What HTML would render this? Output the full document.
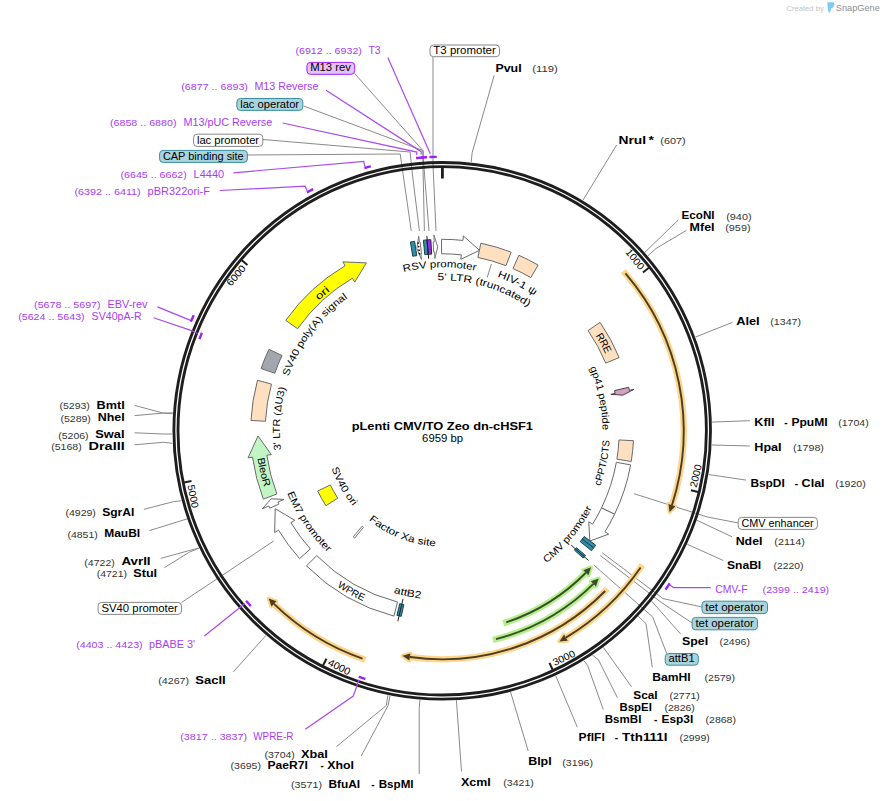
<!DOCTYPE html>
<html><head><meta charset="utf-8"><style>
html,body{margin:0;padding:0;background:#fff;}
svg{display:block;}
text{font-family:"Liberation Sans", sans-serif;}
</style></head><body>
<svg width="884" height="801" viewBox="0 0 884 801">
<rect width="884" height="801" fill="#fff"/>
<path d="M433,57 L433,165 L436,231" fill="none" stroke="#8a8a8a" stroke-width="1"/>
<path d="M354.7,73.6 L423.2,150.9 L423.4,160 L429,231" fill="none" stroke="#8a8a8a" stroke-width="1"/>
<path d="M303.6,106 L422.8,150.5 L422.8,158 L424.4,231" fill="none" stroke="#8a8a8a" stroke-width="1"/>
<path d="M262.8,139.5 L410.1,152 L412.5,175 L419.4,231" fill="none" stroke="#8a8a8a" stroke-width="1"/>
<path d="M247.4,155 L400.2,154 L411.25,231" fill="none" stroke="#8a8a8a" stroke-width="1"/>
<path d="M738.2,523 L707.1,516.9 L634,493.7" fill="none" stroke="#8a8a8a" stroke-width="1"/>
<path d="M702,607 L663,598.6 L602.2,552.7" fill="none" stroke="#8a8a8a" stroke-width="1"/>
<path d="M692.1,623 L661.1,602.3 L600.3,555.5" fill="none" stroke="#8a8a8a" stroke-width="1"/>
<path d="M666.7,653.5 L652.7,617 L593.7,564.9" fill="none" stroke="#8a8a8a" stroke-width="1"/>
<path d="M181.5,602.5 L273.7,541" fill="none" stroke="#8a8a8a" stroke-width="1"/>
<circle cx="442.2" cy="430.8" r="268.3" fill="none" stroke="#1e1e1e" stroke-width="2.85"/>
<circle cx="442.2" cy="430.8" r="264.2" fill="none" stroke="#1e1e1e" stroke-width="2.85"/>
<path d="M442.43,167.6 L442.42,178.6" fill="none" stroke="#1e1e1e" stroke-width="2.8"/>
<path d="M648.84,267.79 L642.95,272.43" fill="none" stroke="#1e1e1e" stroke-width="2.0"/>
<path d="M698.17,492.08 L690.87,490.33" fill="none" stroke="#1e1e1e" stroke-width="2.0"/>
<path d="M552.62,669.72 L549.48,662.91" fill="none" stroke="#1e1e1e" stroke-width="2.0"/>
<path d="M323.01,665.47 L326.41,658.78" fill="none" stroke="#1e1e1e" stroke-width="2.0"/>
<path d="M184.14,482.56 L191.49,481.09" fill="none" stroke="#1e1e1e" stroke-width="2.0"/>
<path d="M241.73,260.25 L247.44,265.11" fill="none" stroke="#1e1e1e" stroke-width="2.0"/>
<text transform="translate(641.78,273.36) rotate(51.73)" x="-3.5" y="0" font-size="10" text-anchor="end" textLength="23.5" lengthAdjust="spacingAndGlyphs">1000</text>
<text transform="translate(695.64,491.47) rotate(-76.54)" x="3.5" y="0" font-size="10" textLength="23.5" lengthAdjust="spacingAndGlyphs">2000</text>
<text transform="translate(551.53,667.36) rotate(-24.81)" x="3.5" y="0" font-size="10" textLength="23.5" lengthAdjust="spacingAndGlyphs">3000</text>
<text transform="translate(324.19,663.15) rotate(26.93)" x="3.5" y="0" font-size="10" textLength="23.5" lengthAdjust="spacingAndGlyphs">4000</text>
<text transform="translate(186.69,482.05) rotate(78.66)" x="3.5" y="0" font-size="10" textLength="23.5" lengthAdjust="spacingAndGlyphs">5000</text>
<text transform="translate(248.59,266.08) rotate(310.39)" x="-3.5" y="0" font-size="10" text-anchor="end" textLength="23.5" lengthAdjust="spacingAndGlyphs">6000</text>
<text x="495.4" y="71.8" font-size="10" font-weight="bold" textLength="26.2" lengthAdjust="spacingAndGlyphs">PvuI</text>
<text x="532.3" y="72.1" font-size="8.6" fill="#333" textLength="25.5" lengthAdjust="spacingAndGlyphs">(119)</text>
<path d="M494.2,75.3 L472.2,152.5 L471.15,162.36" fill="none" stroke="#8a8a8a" stroke-width="1"/>
<text x="618.5" y="143.6" font-size="10" font-weight="bold" textLength="27.6" lengthAdjust="spacingAndGlyphs">NruI</text>
<text x="648.5" y="143.6" font-size="10" font-weight="bold" textLength="5.4" lengthAdjust="spacingAndGlyphs">*</text>
<text x="660.3" y="143.9" font-size="8.6" fill="#333" textLength="25.3" lengthAdjust="spacingAndGlyphs">(607)</text>
<path d="M616.7,144.9 L582.88,200.34" fill="none" stroke="#8a8a8a" stroke-width="1"/>
<text x="681.6" y="219.2" font-size="10" font-weight="bold" textLength="33" lengthAdjust="spacingAndGlyphs">EcoNI</text>
<text x="726.2" y="219.5" font-size="8.6" fill="#333" textLength="25.4" lengthAdjust="spacingAndGlyphs">(940)</text>
<path d="M678.4,219.9 L644.82,252.34" fill="none" stroke="#8a8a8a" stroke-width="1"/>
<text x="689.6" y="231.1" font-size="10" font-weight="bold" textLength="25" lengthAdjust="spacingAndGlyphs">MfeI</text>
<text x="725.2" y="231.4" font-size="8.6" fill="#333" textLength="25.4" lengthAdjust="spacingAndGlyphs">(959)</text>
<path d="M686.4,230.4 L656,248.5 L647.85,255.85" fill="none" stroke="#8a8a8a" stroke-width="1"/>
<text x="736.2" y="324.8" font-size="10" font-weight="bold" textLength="23.5" lengthAdjust="spacingAndGlyphs">AleI</text>
<text x="770.3" y="325.1" font-size="8.6" fill="#333" textLength="30.7" lengthAdjust="spacingAndGlyphs">(1347)</text>
<path d="M732.4,322.4 L695.4,337.05" fill="none" stroke="#8a8a8a" stroke-width="1"/>
<text x="754.3" y="426.1" font-size="10" font-weight="bold" textLength="20.3" lengthAdjust="spacingAndGlyphs">KflI</text>
<text x="784.2" y="426.1" font-size="10" font-weight="bold">-</text>
<text x="791.4" y="426.1" font-size="10" font-weight="bold" textLength="36.2" lengthAdjust="spacingAndGlyphs">PpuMI</text>
<text x="838.2" y="426.4" font-size="8.6" fill="#333" textLength="30.5" lengthAdjust="spacingAndGlyphs">(1704)</text>
<path d="M749.9,420.7 L712.06,422.09" fill="none" stroke="#8a8a8a" stroke-width="1"/>
<text x="754.3" y="451" font-size="10" font-weight="bold" textLength="27.3" lengthAdjust="spacingAndGlyphs">HpaI</text>
<text x="793" y="451.3" font-size="8.6" fill="#333" textLength="30.9" lengthAdjust="spacingAndGlyphs">(1798)</text>
<path d="M749.9,446 L711.83,444.99" fill="none" stroke="#8a8a8a" stroke-width="1"/>
<text x="750.4" y="486.6" font-size="10" font-weight="bold" textLength="34.4" lengthAdjust="spacingAndGlyphs">BspDI</text>
<text x="794.7" y="486.6" font-size="10" font-weight="bold">-</text>
<text x="801.6" y="486.6" font-size="10" font-weight="bold" textLength="23" lengthAdjust="spacingAndGlyphs">ClaI</text>
<text x="835.2" y="486.9" font-size="8.6" fill="#333" textLength="30.5" lengthAdjust="spacingAndGlyphs">(1920)</text>
<path d="M746.1,480.1 L708.63,474.55" fill="none" stroke="#8a8a8a" stroke-width="1"/>
<text x="735.7" y="544.8" font-size="10" font-weight="bold" textLength="26.8" lengthAdjust="spacingAndGlyphs">NdeI</text>
<text x="774.3" y="545.1" font-size="8.6" fill="#333" textLength="30.5" lengthAdjust="spacingAndGlyphs">(2114)</text>
<path d="M732,536.8 L696.93,520.31" fill="none" stroke="#8a8a8a" stroke-width="1"/>
<text x="727" y="568.9" font-size="10" font-weight="bold" textLength="34.2" lengthAdjust="spacingAndGlyphs">SnaBI</text>
<text x="773.6" y="569.2" font-size="8.6" fill="#333" textLength="29.9" lengthAdjust="spacingAndGlyphs">(2220)</text>
<path d="M723.3,560.5 L687.21,544.24" fill="none" stroke="#8a8a8a" stroke-width="1"/>
<text x="682.1" y="644.8" font-size="10" font-weight="bold" textLength="26" lengthAdjust="spacingAndGlyphs">SpeI</text>
<text x="719.5" y="645.1" font-size="8.6" fill="#333" textLength="30.4" lengthAdjust="spacingAndGlyphs">(2496)</text>
<path d="M680.9,634.3 L651.67,601.16" fill="none" stroke="#8a8a8a" stroke-width="1"/>
<text x="652.3" y="680.8" font-size="10" font-weight="bold" textLength="38.4" lengthAdjust="spacingAndGlyphs">BamHI</text>
<text x="704.5" y="681.1" font-size="8.6" fill="#333" textLength="30.5" lengthAdjust="spacingAndGlyphs">(2579)</text>
<path d="M652.3,667.2 L646,623.6 L638.32,616.37" fill="none" stroke="#8a8a8a" stroke-width="1"/>
<text x="633.3" y="698.6" font-size="10" font-weight="bold" textLength="24.3" lengthAdjust="spacingAndGlyphs">ScaI</text>
<text x="669.4" y="698.9" font-size="8.6" fill="#333" textLength="30.5" lengthAdjust="spacingAndGlyphs">(2771)</text>
<path d="M631.6,686.9 L603.38,647.42" fill="none" stroke="#8a8a8a" stroke-width="1"/>
<text x="619.6" y="710.5" font-size="10" font-weight="bold" textLength="32.2" lengthAdjust="spacingAndGlyphs">BspEI</text>
<text x="664.4" y="710.8" font-size="8.6" fill="#333" textLength="30.5" lengthAdjust="spacingAndGlyphs">(2826)</text>
<path d="M617.4,697.7 L598.4,659.7 L592.43,655.15" fill="none" stroke="#8a8a8a" stroke-width="1"/>
<text x="604.7" y="722.7" font-size="10" font-weight="bold" textLength="36.7" lengthAdjust="spacingAndGlyphs">BsmBI</text>
<text x="654" y="722.7" font-size="10" font-weight="bold">-</text>
<text x="661.5" y="722.7" font-size="10" font-weight="bold" textLength="31.7" lengthAdjust="spacingAndGlyphs">Esp3I</text>
<text x="705.5" y="723" font-size="8.6" fill="#333" textLength="30.5" lengthAdjust="spacingAndGlyphs">(2868)</text>
<path d="M603.3,709.6 L587.5,665.2 L583.81,660.68" fill="none" stroke="#8a8a8a" stroke-width="1"/>
<text x="578.6" y="740.9" font-size="10" font-weight="bold" textLength="26.2" lengthAdjust="spacingAndGlyphs">PflFI</text>
<text x="614.7" y="740.9" font-size="10" font-weight="bold">-</text>
<text x="622.1" y="740.9" font-size="10" font-weight="bold" textLength="45.4" lengthAdjust="spacingAndGlyphs">Tth111I</text>
<text x="679.4" y="741.2" font-size="8.6" fill="#333" textLength="30.4" lengthAdjust="spacingAndGlyphs">(2999)</text>
<path d="M577.3,727.2 L555.7,675.79" fill="none" stroke="#8a8a8a" stroke-width="1"/>
<text x="528.2" y="765.2" font-size="10" font-weight="bold" textLength="23.5" lengthAdjust="spacingAndGlyphs">BlpI</text>
<text x="562.3" y="765.5" font-size="8.6" fill="#333" textLength="30.7" lengthAdjust="spacingAndGlyphs">(3196)</text>
<path d="M528.2,751 L510.56,692" fill="none" stroke="#8a8a8a" stroke-width="1"/>
<text x="461" y="785.9" font-size="10" font-weight="bold" textLength="29.7" lengthAdjust="spacingAndGlyphs">XcmI</text>
<text x="503.3" y="786.2" font-size="8.6" fill="#333" textLength="30.5" lengthAdjust="spacingAndGlyphs">(3421)</text>
<path d="M461.5,771.6 L456.45,700.42" fill="none" stroke="#8a8a8a" stroke-width="1"/>
<text x="291" y="787.9" font-size="8.6" fill="#333" textLength="31" lengthAdjust="spacingAndGlyphs">(3571)</text>
<text x="328.4" y="787.6" font-size="10" font-weight="bold" textLength="31.7" lengthAdjust="spacingAndGlyphs">BfuAI</text>
<text x="371.2" y="787.6" font-size="10" font-weight="bold">-</text>
<text x="378.7" y="787.6" font-size="10" font-weight="bold" textLength="34.9" lengthAdjust="spacingAndGlyphs">BspMI</text>
<path d="M419.2,774.1 L419.2,708.7 L419.92,699.88" fill="none" stroke="#8a8a8a" stroke-width="1"/>
<text x="230.6" y="769.4" font-size="8.6" fill="#333" textLength="30.3" lengthAdjust="spacingAndGlyphs">(3695)</text>
<text x="267.4" y="769.1" font-size="10" font-weight="bold" textLength="40.4" lengthAdjust="spacingAndGlyphs">PaeR7I</text>
<text x="320.4" y="769.1" font-size="10" font-weight="bold">-</text>
<text x="327.2" y="769.1" font-size="10" font-weight="bold" textLength="26.7" lengthAdjust="spacingAndGlyphs">XhoI</text>
<path d="M361.2,756 L388.1,705.4 L390,695.71" fill="none" stroke="#8a8a8a" stroke-width="1"/>
<text x="264.4" y="758" font-size="8.6" fill="#333" textLength="30.5" lengthAdjust="spacingAndGlyphs">(3704)</text>
<text x="301" y="757.7" font-size="10" font-weight="bold" textLength="26.8" lengthAdjust="spacingAndGlyphs">XbaI</text>
<path d="M336.4,746.7 L386.4,705.4 L387.85,695.27" fill="none" stroke="#8a8a8a" stroke-width="1"/>
<text x="158.2" y="683.9" font-size="8.6" fill="#333" textLength="30.9" lengthAdjust="spacingAndGlyphs">(4267)</text>
<text x="195.3" y="683.6" font-size="10" font-weight="bold" textLength="30.4" lengthAdjust="spacingAndGlyphs">SacII</text>
<path d="M233.3,671.9 L266,635.38" fill="none" stroke="#8a8a8a" stroke-width="1"/>
<text x="84.3" y="565.5" font-size="8.6" fill="#333" textLength="30.5" lengthAdjust="spacingAndGlyphs">(4722)</text>
<text x="121.4" y="565.2" font-size="10" font-weight="bold" textLength="29.2" lengthAdjust="spacingAndGlyphs">AvrII</text>
<path d="M160.7,558.4 L189.3,550.5 L198.96,547.99" fill="none" stroke="#8a8a8a" stroke-width="1"/>
<text x="96.7" y="577.4" font-size="8.6" fill="#333" textLength="30.3" lengthAdjust="spacingAndGlyphs">(4721)</text>
<text x="133.3" y="577.1" font-size="10" font-weight="bold" textLength="23.8" lengthAdjust="spacingAndGlyphs">StuI</text>
<path d="M164.4,567.7 L189.3,552.2 L199.06,548.21" fill="none" stroke="#8a8a8a" stroke-width="1"/>
<text x="67.4" y="537.6" font-size="8.6" fill="#333" textLength="30.4" lengthAdjust="spacingAndGlyphs">(4851)</text>
<text x="104.2" y="537.3" font-size="10" font-weight="bold" textLength="36" lengthAdjust="spacingAndGlyphs">MauBI</text>
<path d="M149.5,530.6 L186.99,518.93" fill="none" stroke="#8a8a8a" stroke-width="1"/>
<text x="65.4" y="516.4" font-size="8.6" fill="#333" textLength="30.5" lengthAdjust="spacingAndGlyphs">(4929)</text>
<text x="102.2" y="516.1" font-size="10" font-weight="bold" textLength="32.2" lengthAdjust="spacingAndGlyphs">SgrAI</text>
<path d="M143.8,509.4 L173.2,501.7 L181.42,500.75" fill="none" stroke="#8a8a8a" stroke-width="1"/>
<text x="51.2" y="450.4" font-size="8.6" fill="#333" textLength="30.5" lengthAdjust="spacingAndGlyphs">(5168)</text>
<text x="88.5" y="450.1" font-size="10" font-weight="bold" textLength="36.2" lengthAdjust="spacingAndGlyphs">DraIII</text>
<path d="M134.6,444.8 L163.2,442.3 L172.49,443.29" fill="none" stroke="#8a8a8a" stroke-width="1"/>
<text x="58.2" y="438.6" font-size="8.6" fill="#333" textLength="30.4" lengthAdjust="spacingAndGlyphs">(5206)</text>
<text x="95.3" y="438.3" font-size="10" font-weight="bold" textLength="29.2" lengthAdjust="spacingAndGlyphs">SwaI</text>
<path d="M134.6,432.8 L163.2,434 L172.22,434.03" fill="none" stroke="#8a8a8a" stroke-width="1"/>
<text x="60.4" y="421.5" font-size="8.6" fill="#333" textLength="30.5" lengthAdjust="spacingAndGlyphs">(5289)</text>
<text x="97.7" y="421.2" font-size="10" font-weight="bold" textLength="27" lengthAdjust="spacingAndGlyphs">NheI</text>
<path d="M134.6,415.6 L163.2,413.1 L172.74,413.81" fill="none" stroke="#8a8a8a" stroke-width="1"/>
<text x="59.4" y="409" font-size="8.6" fill="#333" textLength="30.5" lengthAdjust="spacingAndGlyphs">(5293)</text>
<text x="96.5" y="408.7" font-size="10" font-weight="bold" textLength="28.2" lengthAdjust="spacingAndGlyphs">BmtI</text>
<path d="M134.6,405.4 L163.2,413.1 L172.8,412.83" fill="none" stroke="#8a8a8a" stroke-width="1"/>
<text x="295.4" y="54" font-size="9" fill="#a63cf0" textLength="66.5" lengthAdjust="spacingAndGlyphs">(6912 .. 6932)</text>
<text x="368.4" y="54" font-size="10.2" fill="#a63cf0" textLength="12.2" lengthAdjust="spacingAndGlyphs">T3</text>
<path d="M387.8,57.4 L430.3,153.7" fill="none" stroke="#a94af0" stroke-width="1.2"/>
<path d="M430.58,157.05 A274,274 0 0 1 435.52,156.88" fill="none" stroke="#a020f0" stroke-width="2.4" stroke-linecap="square"/>
<text x="181.3" y="89.9" font-size="9" fill="#a63cf0" textLength="66.6" lengthAdjust="spacingAndGlyphs">(6877 .. 6893)</text>
<text x="254.4" y="89.9" font-size="10.2" fill="#a63cf0" textLength="64" lengthAdjust="spacingAndGlyphs">M13 Reverse</text>
<path d="M326,90.3 L421.2,151.7 L421.2,154.6" fill="none" stroke="#a94af0" stroke-width="1.2"/>
<path d="M421.93,157.55 A274,274 0 0 1 425.88,157.29" fill="none" stroke="#a020f0" stroke-width="2.4" stroke-linecap="square"/>
<text x="110" y="125.8" font-size="9" fill="#a63cf0" textLength="66.5" lengthAdjust="spacingAndGlyphs">(6858 .. 6880)</text>
<text x="183.4" y="125.8" font-size="10.2" fill="#a63cf0" textLength="88.9" lengthAdjust="spacingAndGlyphs">M13/pUC Reverse</text>
<path d="M282.6,123 L416.8,152.1 L416.8,155" fill="none" stroke="#a94af0" stroke-width="1.2"/>
<path d="M417.25,157.94 A274,274 0 0 1 422.67,157.5" fill="none" stroke="#a020f0" stroke-width="2.4" stroke-linecap="square"/>
<text x="120.5" y="178" font-size="9" fill="#a63cf0" textLength="66.3" lengthAdjust="spacingAndGlyphs">(6645 .. 6662)</text>
<text x="193.6" y="178" font-size="10.2" fill="#a63cf0" textLength="30.5" lengthAdjust="spacingAndGlyphs">L4440</text>
<path d="M233.5,172.8 L363.8,161.4 L364.8,166.5" fill="none" stroke="#a94af0" stroke-width="1.2"/>
<path d="M365.56,167.74 A274,274 0 0 1 369.6,166.59" fill="none" stroke="#a020f0" stroke-width="2.4" stroke-linecap="square"/>
<text x="74.4" y="195.2" font-size="9" fill="#a63cf0" textLength="66.3" lengthAdjust="spacingAndGlyphs">(6392 .. 6411)</text>
<text x="147.6" y="195.2" font-size="10.2" fill="#a63cf0" textLength="62.3" lengthAdjust="spacingAndGlyphs">pBR322ori-F</text>
<path d="M219.8,190.5 L305.1,186.2 L307.3,191.2" fill="none" stroke="#a94af0" stroke-width="1.2"/>
<path d="M307.98,191.93 A274,274 0 0 1 312.09,189.66" fill="none" stroke="#a020f0" stroke-width="2.4" stroke-linecap="square"/>
<text x="34.1" y="307.9" font-size="9" fill="#a63cf0" textLength="66.5" lengthAdjust="spacingAndGlyphs">(5678 .. 5697)</text>
<text x="107.5" y="307.9" font-size="10.2" fill="#a63cf0" textLength="39.9" lengthAdjust="spacingAndGlyphs">EBV-rev</text>
<path d="M157.5,306.9 L191.2,320.6" fill="none" stroke="#a94af0" stroke-width="1.2"/>
<path d="M191.37,320.53 A274,274 0 0 1 193.3,316.24" fill="none" stroke="#a020f0" stroke-width="2.4" stroke-linecap="square"/>
<text x="18.2" y="319.8" font-size="9" fill="#a63cf0" textLength="66.5" lengthAdjust="spacingAndGlyphs">(5624 .. 5643)</text>
<text x="91.6" y="319.8" font-size="10.2" fill="#a63cf0" textLength="50.1" lengthAdjust="spacingAndGlyphs">SV40pA-R</text>
<path d="M153.6,317.8 L191.6,330.6 L197.5,333.5" fill="none" stroke="#a94af0" stroke-width="1.2"/>
<path d="M199.84,338.06 A259.5,259.5 0 0 1 201.46,333.92" fill="none" stroke="#a020f0" stroke-width="2.4" stroke-linecap="square"/>
<text x="76.2" y="647.7" font-size="9" fill="#a63cf0" textLength="66.5" lengthAdjust="spacingAndGlyphs">(4403 .. 4423)</text>
<text x="149.1" y="647.7" font-size="10.2" fill="#a63cf0" textLength="45.9" lengthAdjust="spacingAndGlyphs">pBABE 3'</text>
<path d="M204.4,636 L242.4,605.5 L244.5,603.5" fill="none" stroke="#a94af0" stroke-width="1.2"/>
<path d="M250.04,605.2 A259.5,259.5 0 0 1 246.92,601.7" fill="none" stroke="#a020f0" stroke-width="2.4" stroke-linecap="square"/>
<text x="180.3" y="739.8" font-size="9" fill="#a63cf0" textLength="66.8" lengthAdjust="spacingAndGlyphs">(3817 .. 3837)</text>
<text x="253.2" y="739.8" font-size="10.2" fill="#a63cf0" textLength="40.2" lengthAdjust="spacingAndGlyphs">WPRE-R</text>
<path d="M305.3,729.3 L353.25,696 L356.5,687 L358.9,679.8" fill="none" stroke="#a94af0" stroke-width="1.2"/>
<path d="M364.25,678.63 A259.8,259.8 0 0 1 359.79,677.18" fill="none" stroke="#a020f0" stroke-width="2.4" stroke-linecap="square"/>
<text x="762.6" y="592.6" font-size="9" fill="#a63cf0" textLength="66.6" lengthAdjust="spacingAndGlyphs">(2399 .. 2419)</text>
<text x="715.3" y="592.6" font-size="10.2" fill="#a63cf0" textLength="32.3" lengthAdjust="spacingAndGlyphs">CMV-F</text>
<path d="M710.8,587.6 L673.5,587.6 L669.8,585" fill="none" stroke="#a94af0" stroke-width="1.2"/>
<path d="M669.08,584.43 A274,274 0 0 1 666.27,588.5" fill="none" stroke="#a020f0" stroke-width="2.4" stroke-linecap="square"/>
<path d="M410.36,241.97 A191.5,191.5 0 0 1 414.63,241.29 L416.72,255.64 A177,177 0 0 0 412.77,256.26 Z" fill="#2f8ea8" stroke="#1f3f48" stroke-width="1" stroke-linejoin="miter"/>
<path d="M420.12,242.09 A190,190 0 0 0 419.44,242.17 L418.72,236.21 L416.86,248.55 L421.54,259.54 L420.88,254.08 A178,178 0 0 1 421.51,254.01 Z" fill="#fff" stroke="#777" stroke-width="1" stroke-linejoin="miter"/>
<circle cx="419.54" cy="253.74" r="0.9" fill="#111"/>
<circle cx="419.08" cy="250.17" r="0.9" fill="#111"/>
<circle cx="418.62" cy="246.6" r="0.9" fill="#111"/>
<circle cx="418.17" cy="243.03" r="0.9" fill="#111"/>
<path d="M423.38,240.23 A191.5,191.5 0 0 1 427,239.9 L428.15,254.36 A177,177 0 0 0 424.81,254.66 Z" fill="#2f8ea8" stroke="#1f3f48" stroke-width="1" stroke-linejoin="miter"/>
<path d="M427,239.9 A191.5,191.5 0 0 1 430.8,239.64 L431.66,254.11 A177,177 0 0 0 428.15,254.36 Z" fill="#9a2ee6" stroke="#3a1a50" stroke-width="1" stroke-linejoin="miter"/>
<path d="M428.66,258.83 L426.86,235.9" fill="none" stroke="#222" stroke-width="1"/>
<path d="M433.16,242.02 A189,189 0 0 1 434.18,241.97 L433.89,234.98 L437.71,246.85 L434.88,258.46 L434.61,251.96 A179,179 0 0 0 433.64,252 Z" fill="#fff" stroke="#777" stroke-width="1" stroke-linejoin="miter"/>
<path d="M441.53,239.3 A191.5,191.5 0 0 1 462.91,240.42 L463.39,235.95 L479.54,250.37 L460.85,259.31 L461.34,254.84 A177,177 0 0 0 441.58,253.8 Z" fill="#fff" stroke="#6a6a6a" stroke-width="1" stroke-linejoin="miter"/>
<path d="M480.84,243.24 A191.5,191.5 0 0 1 511.16,252.15 L505.94,265.67 A177,177 0 0 0 477.91,257.44 Z" fill="#fee0c1" stroke="#6a6a6a" stroke-width="1" stroke-linejoin="miter"/>
<path d="M518.83,255.3 A191.5,191.5 0 0 1 538.11,265.05 L530.85,277.6 A177,177 0 0 0 513.03,268.59 Z" fill="#fee0c1" stroke="#6a6a6a" stroke-width="1" stroke-linejoin="miter"/>
<path d="M600.04,322.36 A191.5,191.5 0 0 1 619.14,357.55 L605.74,363.09 A177,177 0 0 0 588.08,330.57 Z" fill="#fee0c1" stroke="#6a6a6a" stroke-width="1" stroke-linejoin="miter"/>
<path d="M628.7,387.31 A191.5,191.5 0 0 1 629.38,390.35 L633.78,389.39 L622.97,395.14 L610.81,394.36 L615.21,393.41 A177,177 0 0 0 614.57,390.6 Z" fill="#d59fc2" stroke="#444" stroke-width="1" stroke-linejoin="miter"/>
<path d="M633.44,440.69 A191.5,191.5 0 0 1 631.23,461.49 L616.91,459.16 A177,177 0 0 0 618.96,439.95 Z" fill="#fee0c1" stroke="#6a6a6a" stroke-width="1" stroke-linejoin="miter"/>
<path d="M630.64,464.9 A191.5,191.5 0 0 1 614.57,514.23 L601.52,507.91 A177,177 0 0 0 616.37,462.31 Z" fill="#fff" stroke="#6a6a6a" stroke-width="1" stroke-linejoin="miter"/>
<path d="M614.57,514.23 A191.5,191.5 0 0 1 604.91,531.79 L608.73,534.16 L589.85,541.02 L588.76,521.77 L592.59,524.14 A177,177 0 0 0 601.52,507.91 Z" fill="#fff" stroke="#6a6a6a" stroke-width="1" stroke-linejoin="miter"/>
<path d="M595.76,545.22 A191.5,191.5 0 0 1 593.67,547.97 L582.2,539.1 A177,177 0 0 0 584.13,536.56 Z" fill="#2f8ea8" stroke="#1f3f48" stroke-width="1" stroke-linejoin="miter"/>
<path d="M593.67,547.97 A191.5,191.5 0 0 1 591.53,550.69 L580.22,541.61 A177,177 0 0 0 582.2,539.1 Z" fill="#2f8ea8" stroke="#1f3f48" stroke-width="1" stroke-linejoin="miter"/>
<path d="M585.52,555.54 A190,190 0 0 1 583.24,558.11 L574.33,550.07 A178,178 0 0 0 576.46,547.66 Z" fill="#2f8ea8" stroke="#1f3f48" stroke-width="1" stroke-linejoin="miter"/>
<path d="M571.29,545.22 L588.5,560.48" fill="none" stroke="#222" stroke-width="1"/>
<path d="M401.27,616.34 A190,190 0 0 1 396.92,615.33 L399.78,603.67 A178,178 0 0 0 403.85,604.62 Z" fill="#2f8ea8" stroke="#1f3f48" stroke-width="1" stroke-linejoin="miter"/>
<path d="M403.06,598.8 L397.84,621.2" fill="none" stroke="#222" stroke-width="1"/>
<path d="M393.88,616.1 A191.5,191.5 0 0 1 306.47,565.89 L316.75,555.66 A177,177 0 0 0 397.54,602.07 Z" fill="#fff" stroke="#6a6a6a" stroke-width="1" stroke-linejoin="miter"/>
<path d="M299.58,558.6 A191.5,191.5 0 0 1 278.5,530.17 L274.65,532.51 L275.21,508.67 L294.74,520.31 L290.89,522.65 A177,177 0 0 0 310.38,548.92 Z" fill="#fff" stroke="#6a6a6a" stroke-width="1" stroke-linejoin="miter"/>
<path d="M269.77,508.19 A189,189 0 0 1 268.81,506 L262.38,508.79 L271.23,498.8 L283.94,499.44 L277.98,502.03 A179,179 0 0 0 278.89,504.1 Z" fill="#fff" stroke="#6a6a6a" stroke-width="1" stroke-linejoin="miter"/>
<path d="M263.31,499.15 A191.5,191.5 0 0 1 252.53,457.21 L248.07,457.83 L258.02,436 L271.35,454.59 L266.89,455.21 A177,177 0 0 0 276.86,493.98 Z" fill="#c2f5c4" stroke="#6a6a6a" stroke-width="1" stroke-linejoin="miter"/>
<path d="M250.98,420.47 A191.5,191.5 0 0 1 257.49,380.27 L271.47,384.1 A177,177 0 0 0 265.46,421.26 Z" fill="#fee0c1" stroke="#6a6a6a" stroke-width="1" stroke-linejoin="miter"/>
<path d="M261.1,368.54 A191.5,191.5 0 0 1 268.9,349.32 L282.02,355.49 A177,177 0 0 0 274.82,373.25 Z" fill="#a3a6ad" stroke="#6a6a6a" stroke-width="1" stroke-linejoin="miter"/>
<path d="M285.75,320.37 A191.5,191.5 0 0 1 345.09,265.75 L342.81,261.87 L366.34,262.89 L354.73,282.12 L352.45,278.24 A177,177 0 0 0 297.59,328.73 Z" fill="#ffff00" stroke="#6a6a6a" stroke-width="1" stroke-linejoin="miter"/>
<path d="M325.96,505.74 A138.3,138.3 0 0 1 317.71,491.05 L330.32,484.95 A124.3,124.3 0 0 0 337.73,498.15 Z" fill="#ffff00" stroke="#6a6a6a" stroke-width="1" stroke-linejoin="miter"/>
<path d="M354.66,538.13 A138.5,138.5 0 0 1 353.17,536.9 L362.17,526.17 A124.5,124.5 0 0 0 363.51,527.28 Z" fill="#fff" stroke="#555" stroke-width="0.8" stroke-linejoin="miter"/>
<path d="M625.43,273.48 A241.5,241.5 0 0 1 671.95,505.2" fill="none" stroke="#fdd68c" stroke-width="6.4" stroke-linecap="square"/>
<path d="M669.53,512.3 L675.38,506.31 L668.53,504.09 Z" fill="#fdd68c" stroke="#fdd68c" stroke-width="4" stroke-linejoin="round"/>
<path d="M625.43,273.48 A241.5,241.5 0 0 1 671.95,505.2" fill="none" stroke="#4a3d26" stroke-width="1.9"/>
<path d="M669.53,512.3 L675.38,506.31 L668.53,504.09 Z" fill="#4a3d26" stroke="none"/>
<path d="M640.65,567.55 A241,241 0 0 1 565.9,637.63" fill="none" stroke="#fdd68c" stroke-width="6.4" stroke-linecap="square"/>
<path d="M559.4,641.38 L567.75,640.72 L564.05,634.54 Z" fill="#fdd68c" stroke="#fdd68c" stroke-width="4" stroke-linejoin="round"/>
<path d="M640.65,567.55 A241,241 0 0 1 565.9,637.63" fill="none" stroke="#4a3d26" stroke-width="1.9"/>
<path d="M559.4,641.38 L567.75,640.72 L564.05,634.54 Z" fill="#4a3d26" stroke="none"/>
<path d="M605.17,590.96 A228.5,228.5 0 0 1 409.89,657" fill="none" stroke="#fdd68c" stroke-width="6.4" stroke-linecap="square"/>
<path d="M402.48,655.82 L409.38,660.57 L410.4,653.44 Z" fill="#fdd68c" stroke="#fdd68c" stroke-width="4" stroke-linejoin="round"/>
<path d="M605.17,590.96 A228.5,228.5 0 0 1 409.89,657" fill="none" stroke="#4a3d26" stroke-width="1.9"/>
<path d="M402.48,655.82 L409.38,660.57 L410.4,653.44 Z" fill="#4a3d26" stroke="none"/>
<path d="M362.53,658.68 A241.4,241.4 0 0 1 273.95,603.91" fill="none" stroke="#fdd68c" stroke-width="6.4" stroke-linecap="square"/>
<path d="M268.66,598.6 L271.45,606.49 L276.46,601.33 Z" fill="#fdd68c" stroke="#fdd68c" stroke-width="4" stroke-linejoin="round"/>
<path d="M362.53,658.68 A241.4,241.4 0 0 1 273.95,603.91" fill="none" stroke="#4a3d26" stroke-width="1.9"/>
<path d="M268.66,598.6 L271.45,606.49 L276.46,601.33 Z" fill="#4a3d26" stroke="none"/>
<path d="M585.87,572.79 A202,202 0 0 1 506.28,622.37" fill="none" stroke="#b2f088" stroke-width="6.4" stroke-linecap="square"/>
<path d="M591.04,567.36 L588.43,575.33 L583.31,570.26 Z" fill="#b2f088" stroke="#b2f088" stroke-width="4" stroke-linejoin="round"/>
<path d="M585.87,572.79 A202,202 0 0 1 506.28,622.37" fill="none" stroke="#3c4a30" stroke-width="1.9"/>
<path d="M591.04,567.36 L588.43,575.33 L583.31,570.26 Z" fill="#3c4a30" stroke="none"/>
<path d="M593.41,583.92 A215.2,215.2 0 0 1 495.93,639.18" fill="none" stroke="#b2f088" stroke-width="6.4" stroke-linecap="square"/>
<path d="M598.65,578.56 L595.94,586.49 L590.88,581.36 Z" fill="#b2f088" stroke="#b2f088" stroke-width="4" stroke-linejoin="round"/>
<path d="M593.41,583.92 A215.2,215.2 0 0 1 495.93,639.18" fill="none" stroke="#3c4a30" stroke-width="1.9"/>
<path d="M598.65,578.56 L595.94,586.49 L590.88,581.36 Z" fill="#3c4a30" stroke="none"/>
<path id="lp1" d="M278.72,433.37 A163.5,163.5 0 0 1 605.68,428.23" fill="none" stroke="none"/>
<text font-size="10" fill="#000"><textPath href="#lp1" startOffset="50%" text-anchor="middle" textLength="73" lengthAdjust="spacingAndGlyphs">RSV promoter</textPath></text>
<path id="lp2" d="M297.42,387.91 A151,151 0 0 1 586.98,473.69" fill="none" stroke="none"/>
<text font-size="10" fill="#000"><textPath href="#lp2" startOffset="50%" text-anchor="middle" textLength="96" lengthAdjust="spacingAndGlyphs">5' LTR (truncated)</textPath></text>
<path id="lp3" d="M296.52,356.57 A163.5,163.5 0 0 1 587.88,505.03" fill="none" stroke="none"/>
<text font-size="10" fill="#000"><textPath href="#lp3" startOffset="50%" text-anchor="middle" textLength="42" lengthAdjust="spacingAndGlyphs">HIV-1 ψ</textPath></text>
<path id="lp4" d="M356.12,272.26 A180.4,180.4 0 0 1 528.28,589.34" fill="none" stroke="none"/>
<text font-size="10.5" fill="#000"><textPath href="#lp4" startOffset="50%" text-anchor="middle" textLength="21" lengthAdjust="spacingAndGlyphs">RRE</textPath></text>
<path id="lp5" d="M409.45,272.66 A161.5,161.5 0 0 1 474.95,588.94" fill="none" stroke="none"/>
<text font-size="10" fill="#000"><textPath href="#lp5" startOffset="50%" text-anchor="middle" textLength="64" lengthAdjust="spacingAndGlyphs">gp41 peptide</textPath></text>
<path id="lp6" d="M409.18,596.03 A168.5,168.5 0 0 0 475.22,265.57" fill="none" stroke="none"/>
<text font-size="10" fill="#000"><textPath href="#lp6" startOffset="50%" text-anchor="middle" textLength="47" lengthAdjust="spacingAndGlyphs">cPPT/CTS</textPath></text>
<path id="lp7" d="M334.89,560.97 A168.7,168.7 0 0 0 549.51,300.63" fill="none" stroke="none"/>
<text font-size="10" fill="#000"><textPath href="#lp7" startOffset="50%" text-anchor="middle" textLength="72" lengthAdjust="spacingAndGlyphs">CMV promoter</textPath></text>
<path id="lp8" d="M276.89,395.66 A169,169 0 0 0 607.51,465.94" fill="none" stroke="none"/>
<text font-size="10" fill="#000"><textPath href="#lp8" startOffset="50%" text-anchor="middle" textLength="28" lengthAdjust="spacingAndGlyphs">attB2</textPath></text>
<path id="lp9" d="M278.66,338.27 A187.9,187.9 0 0 0 605.74,523.33" fill="none" stroke="none"/>
<text font-size="10" fill="#000"><textPath href="#lp9" startOffset="50%" text-anchor="middle" textLength="30" lengthAdjust="spacingAndGlyphs">WPRE</textPath></text>
<path id="lp10" d="M334.2,388.47 A116,116 0 0 0 550.2,473.13" fill="none" stroke="none"/>
<text font-size="10" fill="#000"><textPath href="#lp10" startOffset="50%" text-anchor="middle" textLength="73" lengthAdjust="spacingAndGlyphs">Factor Xa site</textPath></text>
<path id="lp11" d="M347.41,292.1 A168,168 0 0 0 536.99,569.5" fill="none" stroke="none"/>
<text font-size="10" fill="#000"><textPath href="#lp11" startOffset="50%" text-anchor="middle" textLength="72" lengthAdjust="spacingAndGlyphs">EM7 promoter</textPath></text>
<path id="lp12" d="M385.26,329.74 A116,116 0 1 0 499.14,531.86" fill="none" stroke="none"/>
<text font-size="10" fill="#000"><textPath href="#lp12" startOffset="50%" text-anchor="middle" textLength="44" lengthAdjust="spacingAndGlyphs">SV40 ori</textPath></text>
<path id="lp13" d="M399.93,247.72 A187.9,187.9 0 0 0 484.47,613.88" fill="none" stroke="none"/>
<text font-size="10" fill="#000"><textPath href="#lp13" startOffset="50%" text-anchor="middle" textLength="30" lengthAdjust="spacingAndGlyphs">BleoR</textPath></text>
<path id="lp14" d="M429.98,593.34 A163,163 0 0 1 454.42,268.26" fill="none" stroke="none"/>
<text font-size="10" fill="#000"><textPath href="#lp14" startOffset="50%" text-anchor="middle" textLength="63" lengthAdjust="spacingAndGlyphs">3' LTR (ΔU3)</textPath></text>
<path id="lp15" d="M344.1,560.98 A163,163 0 0 1 540.3,300.62" fill="none" stroke="none"/>
<text font-size="10" fill="#000"><textPath href="#lp15" startOffset="50%" text-anchor="middle" textLength="100" lengthAdjust="spacingAndGlyphs">SV40 poly(A) signal</textPath></text>
<path id="lp16" d="M306.11,549.52 A180.6,180.6 0 0 1 578.29,312.08" fill="none" stroke="none"/>
<text font-size="10" fill="#000"><textPath href="#lp16" startOffset="50%" text-anchor="middle" textLength="15" lengthAdjust="spacingAndGlyphs">ori</textPath></text>
<path d="M491.44,264.02 L487.21,277.47" fill="none" stroke="#888" stroke-width="1"/>
<rect x="430" y="45" width="69.5" height="11.7" rx="3.5" ry="3.5" fill="#fff" stroke="#888" stroke-width="1"/>
<text x="433.3" y="53.8" font-size="10.2" textLength="62.5" lengthAdjust="spacingAndGlyphs">T3 promoter</text>
<rect x="306.9" y="62.4" width="47.8" height="11.9" rx="3.5" ry="3.5" fill="#e6c0f8" stroke="#a020f0" stroke-width="1"/>
<text x="310.2" y="71.4" font-size="10.2" textLength="40.8" lengthAdjust="spacingAndGlyphs">M13 rev</text>
<rect x="236.9" y="98.5" width="65.9" height="11.9" rx="3.5" ry="3.5" fill="#abd3dc" stroke="#3a8ea3" stroke-width="1"/>
<text x="240.2" y="107.5" font-size="10.2" textLength="58.9" lengthAdjust="spacingAndGlyphs">lac operator</text>
<rect x="193.6" y="134.2" width="69.2" height="12.2" rx="3.5" ry="3.5" fill="#fff" stroke="#888" stroke-width="1"/>
<text x="196.9" y="143.5" font-size="10.2" textLength="62.2" lengthAdjust="spacingAndGlyphs">lac promoter</text>
<rect x="159.6" y="150.4" width="87.8" height="12" rx="3.5" ry="3.5" fill="#abd3dc" stroke="#3a8ea3" stroke-width="1"/>
<text x="162.9" y="159.5" font-size="10.2" textLength="80.8" lengthAdjust="spacingAndGlyphs">CAP binding site</text>
<rect x="738.2" y="517.4" width="79.2" height="12" rx="3.5" ry="3.5" fill="#fff" stroke="#888" stroke-width="1"/>
<text x="741.5" y="526.5" font-size="10.2" textLength="72.2" lengthAdjust="spacingAndGlyphs">CMV enhancer</text>
<rect x="702" y="601.2" width="65.5" height="12.4" rx="3.5" ry="3.5" fill="#abd3dc" stroke="#3a8ea3" stroke-width="1"/>
<text x="705.3" y="610.7" font-size="10.2" textLength="58.5" lengthAdjust="spacingAndGlyphs">tet operator</text>
<rect x="692.1" y="617.4" width="65.4" height="12.4" rx="3.5" ry="3.5" fill="#abd3dc" stroke="#3a8ea3" stroke-width="1"/>
<text x="695.4" y="626.9" font-size="10.2" textLength="58.4" lengthAdjust="spacingAndGlyphs">tet operator</text>
<rect x="665.2" y="653.5" width="33.1" height="11.7" rx="3.5" ry="3.5" fill="#abd3dc" stroke="#3a8ea3" stroke-width="1"/>
<text x="668.5" y="662.3" font-size="10.2" textLength="26.1" lengthAdjust="spacingAndGlyphs">attB1</text>
<rect x="98.1" y="602.4" width="83.4" height="12" rx="3.5" ry="3.5" fill="#fff" stroke="#888" stroke-width="1"/>
<text x="101.4" y="611.5" font-size="10.2" textLength="76.4" lengthAdjust="spacingAndGlyphs">SV40 promoter</text>
<text x="351.7" y="430.2" font-size="10.6" font-weight="bold" textLength="181.3" lengthAdjust="spacingAndGlyphs">pLenti CMV/TO Zeo dn-cHSF1</text>
<text x="422.1" y="441.9" font-size="10" textLength="41" lengthAdjust="spacingAndGlyphs">6959 bp</text>
<text x="786.4" y="10.6" font-size="7.6" fill="#c4c4c4" textLength="37.4" lengthAdjust="spacingAndGlyphs">Created by</text>
<path d="M827.2,2.2 L833.6,2.2 Q834.8,2.4 834.4,5.5 Q833.8,7.5 831.2,8.3 L830.2,12.6 Q828.6,12.8 828.2,11.5 Z" fill="#7ccdf3"/>
<text x="835.8" y="10.6" font-size="9.4" fill="#8b9096" textLength="44" lengthAdjust="spacingAndGlyphs">SnapGene</text>
</svg>
</body></html>
